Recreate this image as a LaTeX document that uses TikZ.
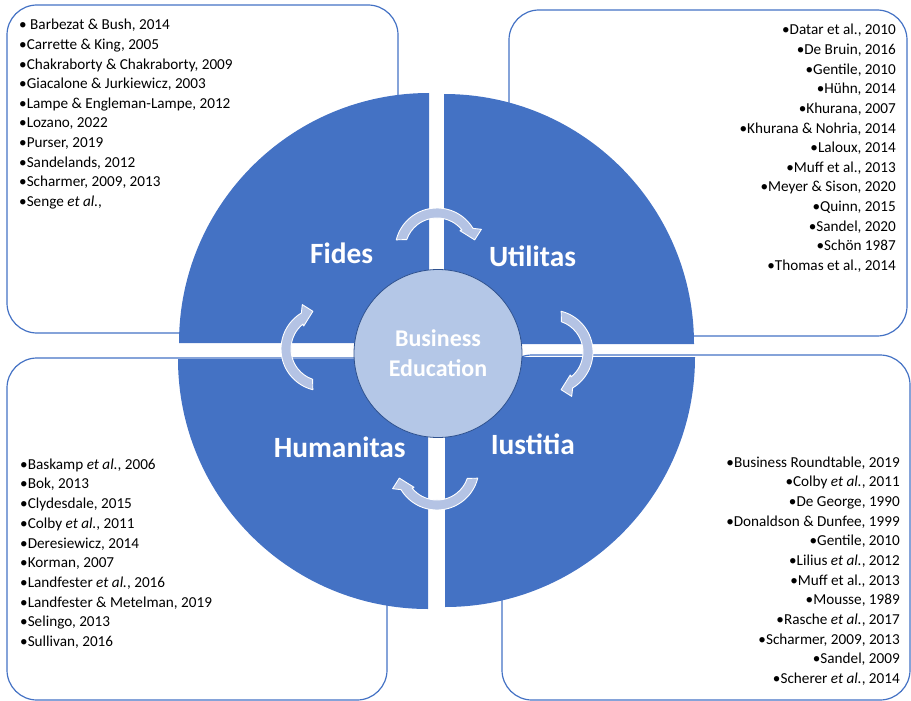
\documentclass[tikz,border=0pt]{standalone}
\usepackage{fontspec}
\setmainfont{Carlito}

\definecolor{quadblue}{HTML}{4472C4}
\definecolor{hubfill}{HTML}{B4C7E7}
\definecolor{hubline}{HTML}{2F528F}
\definecolor{cyclefill}{HTML}{B4C3E4}

\tikzset{
  refbox/.style={draw=quadblue, line width=1.2pt, rounded corners=30pt},
  quadrant/.style={fill=quadblue},
  reftext/.style={inner sep=0pt, font=\fontsize{15.2}{19.6}\selectfont},
  virtue/.style={text=white, inner sep=0pt, anchor=base,
                 font=\bfseries\fontsize{29.4}{35}\selectfont},
  hub/.style={circle, fill=hubfill, draw=hubline, line width=0.8pt,
              minimum size=168pt, inner sep=0pt, text=white, align=center,
              font=\bfseries\fontsize{24}{30}\selectfont},
  cyclearrow/.style={fill=cyclefill, draw=white, line width=0.9pt, line join=round},
}

% curved block arrow around (#1,#2); #3 = direction of the axis it straddles
% (angles run clockwise on the page because the y axis points down)
\newcommand\cyclearc[3]{%
  \filldraw[cyclearrow, shift={(#1,#2)}]
    ({#3-76}:42) arc[start angle={#3-76}, end angle={#3+59}, radius=42]
    -- ({#3+65}:49) -- ({#3+75}:39) -- ({#3+50}:30) -- ({#3+51}:32)
    arc[start angle={#3+51}, end angle={#3-71}, radius=32] -- cycle;}

\begin{document}
\begin{tikzpicture}[x=1pt, y=-1pt]
\useasboundingbox (0,0) rectangle (911,701);

% reference boxes
\draw[refbox] (7,5) rectangle (398,333);
\draw[refbox] (509,10) rectangle (907,336);
\draw[refbox] (7,358) rectangle (387,700);
\draw[refbox] (502,355) rectangle (910,700);

% the four exploded quadrants
\fill[quadrant] (429,343) -- ++(180:250) arc[start angle=180, end angle=270, radius=250] -- cycle;
\fill[quadrant] (444,344) -- ++(270:250) arc[start angle=270, end angle=360, radius=250] -- cycle;
\fill[quadrant] (445,357) -- ++(0:250) arc[start angle=0, end angle=90, radius=250] -- cycle;
\fill[quadrant] (428,359) -- ++(90:250) arc[start angle=90, end angle=180, radius=250] -- cycle;

% centre
\node[hub] (hub) at (438,353.5) {Business\\Education};

% cycle arrows
\cyclearc{437}{250}{270}
\cyclearc{551}{352}{0}
\cyclearc{437}{468}{90}
\cyclearc{323}{349}{180}

% quadrant labels
\node[virtue] (fides) at (341.7,263.3) {Fides};
\node[virtue] (utilitas) at (532.5,266) {Utilitas};
\node[virtue] (humanitas) at (339.7,457.3) {Humanitas};
\node[virtue] (iustitia) at (532.8,454) {Iustitia};

% literature lists
\foreach \t [count=\i] in {
  {• Barbezat \& Bush, 2014},
  {•Carrette \& King, 2005},
  {•Chakraborty \& Chakraborty, 2009},
  {•Giacalone \& Jurkiewicz, 2003},
  {•Lampe \& Engleman-Lampe, 2012},
  {•Lozano, 2022},
  {•Purser, 2019},
  {•Sandelands, 2012},
  {•Scharmer, 2009, 2013},
  {•Senge \textit{et al.},}}
  \node[reftext, anchor=base west] (fides-ref-\i) at (19,{30+19.6*(\i-1)}) {\t};

\foreach \t [count=\i] in {
  {•Datar et al., 2010},
  {•De Bruin, 2016},
  {•Gentile, 2010},
  {•Hühn, 2014},
  {•Khurana, 2007},
  {•Khurana \& Nohria, 2014},
  {•Laloux, 2014},
  {•Muff et al., 2013},
  {•Meyer \& Sison, 2020},
  {•Quinn, 2015},
  {•Sandel, 2020},
  {•Schön 1987},
  {•Thomas et al., 2014}}
  \node[reftext, anchor=base east] (utilitas-ref-\i) at (896,{35+19.6*(\i-1)}) {\t};

\foreach \t [count=\i] in {
  {•Baskamp \textit{et al.}, 2006},
  {•Bok, 2013},
  {•Clydesdale, 2015},
  {•Colby \textit{et al.}, 2011},
  {•Deresiewicz, 2014},
  {•Korman, 2007},
  {•Landfester \textit{et al.}, 2016},
  {•Landfester \& Metelman, 2019},
  {•Selingo, 2013},
  {•Sullivan, 2016}}
  \node[reftext, anchor=base west] (humanitas-ref-\i) at (20,{469.3+19.69*(\i-1)}) {\t};

\foreach \t [count=\i] in {
  {•Business Roundtable, 2019},
  {•Colby \textit{et al.}, 2011},
  {•De George, 1990},
  {•Donaldson \& Dunfee, 1999},
  {•Gentile, 2010},
  {•Lilius \textit{et al.}, 2012},
  {•Muff et al., 2013},
  {•Mousse, 1989},
  {•Rasche \textit{et al.}, 2017},
  {•Scharmer, 2009, 2013},
  {•Sandel, 2009},
  {•Scherer \textit{et al.}, 2014}}
  \node[reftext, anchor=base east] (iustitia-ref-\i) at (900,{467.3+19.64*(\i-1)}) {\t};
\end{tikzpicture}
\end{document}
